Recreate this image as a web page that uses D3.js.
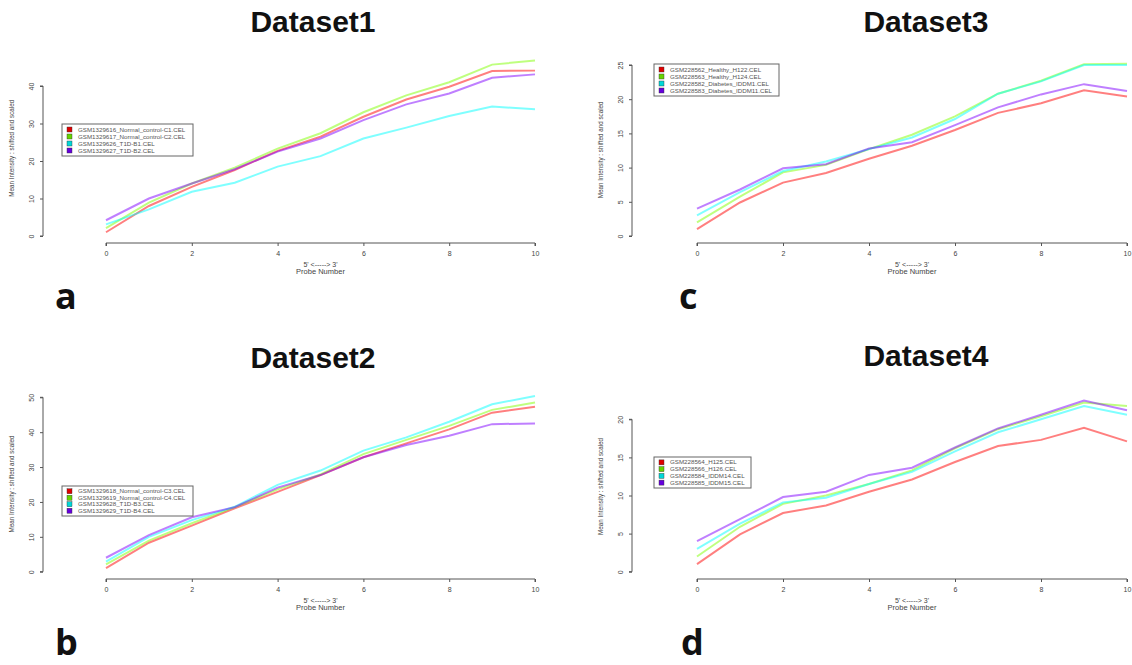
<!DOCTYPE html>
<html>
<head>
<meta charset="utf-8">
<script src="https://cdn.jsdelivr.net/npm/d3@7"></script>
<style>
  body { margin: 0; background: #fff; }
  svg { display: block; }
</style>
</head>
<body>
<script>
// probe positions along the transcript
const probes = [0, 1, 2, 3, 4, 5, 6, 7, 8, 9, 10];
const xTicks = [0, 2, 4, 6, 8, 10];

// Dataset1 series
const ds1Names = ["GSM1329616_Normal_control-C1.CEL", "GSM1329617_Normal_control-C2.CEL",
                  "GSM1329626_T1D-B1.CEL", "GSM1329627_T1D-B2.CEL"];
const ds1Values = [
  [1.0, 8.0, 13.1, 17.6, 22.7, 26.5, 31.8, 36.4, 39.8, 44.0, 44.1],
  [2.1, 8.9, 14.0, 18.2, 23.3, 27.4, 33.0, 37.5, 41.0, 45.7, 46.8],
  [3.1, 7.1, 11.8, 14.2, 18.5, 21.3, 26.0, 28.9, 32.0, 34.5, 33.8],
  [4.2, 10.0, 14.0, 17.8, 22.5, 26.0, 30.9, 35.1, 38.0, 42.2, 43.1]
];
const ds1Ticks = [0, 10, 20, 30, 40];

// Dataset2 series
const ds2Names = ["GSM1329618_Normal_control-C3.CEL", "GSM1329619_Normal_control-C4.CEL",
                  "GSM1329628_T1D-B3.CEL", "GSM1329629_T1D-B4.CEL"];
const ds2Values = [
  [1.0, 8.3, 13.2, 18.2, 22.9, 27.7, 32.8, 36.8, 40.8, 45.6, 47.3],
  [2.1, 8.9, 13.9, 18.5, 23.6, 27.9, 33.7, 37.8, 41.8, 46.4, 48.5],
  [2.9, 10.0, 14.8, 18.6, 24.9, 29.0, 34.7, 38.5, 43.0, 48.0, 50.4],
  [4.0, 10.5, 15.6, 18.5, 24.1, 27.7, 32.8, 36.3, 39.0, 42.3, 42.5]
];
const ds2Ticks = [0, 10, 20, 30, 40, 50];

// Dataset3 series
const ds3Names = ["GSM228562_Healthy_H122.CEL", "GSM228563_Healthy_H124.CEL",
                  "GSM228582_Diabetes_IDDM1.CEL", "GSM228583_Diabetes_IDDM11.CEL"];
const ds3Values = [
  [1.0, 4.9, 7.8, 9.2, 11.3, 13.2, 15.5, 18.0, 19.4, 21.3, 20.4],
  [2.0, 5.75, 9.3, 10.4, 12.7, 14.8, 17.5, 20.8, 22.7, 25.1, 25.2],
  [3.0, 6.4, 9.5, 10.9, 12.7, 14.4, 17.1, 20.8, 22.6, 25.0, 25.0],
  [4.0, 6.8, 9.9, 10.5, 12.8, 13.7, 16.2, 18.8, 20.7, 22.2, 21.2]
];
const ds3Ticks = [0, 5, 10, 15, 20, 25];

// Dataset4 series
const ds4Names = ["GSM228564_H125.CEL", "GSM228566_H126.CEL",
                  "GSM228584_IDDM14.CEL", "GSM228585_IDDM15.CEL"];
const ds4Values = [
  [1.0, 4.9, 7.7, 8.7, 10.5, 12.1, 14.4, 16.5, 17.3, 18.9, 17.1],
  [2.0, 5.9, 8.9, 10.0, 11.5, 13.3, 16.2, 18.7, 20.4, 22.2, 21.75],
  [3.0, 6.3, 9.1, 9.7, 11.5, 13.1, 15.8, 18.3, 20.0, 21.75, 20.6],
  [4.0, 6.9, 9.8, 10.5, 12.7, 13.65, 16.3, 18.8, 20.6, 22.45, 21.2]
];
const ds4Ticks = [0, 5, 10, 15, 20];

const lineColors = ["rgba(255,0,0,0.5)", "rgba(128,255,0,0.5)", "rgba(0,255,255,0.5)", "rgba(128,0,255,0.5)"];
const keyColors = ["#e00000", "#66d400", "#00d8d8", "#6600dd"];

const panels = [
  { title: "Dataset1", letter: "a", names: ds1Names, values: ds1Values, ticks: ds1Ticks,
    x0: 106, x1: 535, axX: 43, axY: 243, y0: 236, yT: 86, tx: 313, ty: 32, lx: 55, ly: 309,
    leg: [62, 124, 131, 32] },
  { title: "Dataset2", letter: "b", names: ds2Names, values: ds2Values, ticks: ds2Ticks,
    x0: 106, x1: 535, axX: 43, axY: 579, y0: 571.7, yT: 397.3, tx: 313, ty: 368, lx: 55, ly: 655,
    leg: [62, 486, 131, 30] },
  { title: "Dataset3", letter: "c", names: ds3Names, values: ds3Values, ticks: ds3Ticks,
    x0: 697, x1: 1127, axX: 632, axY: 243, y0: 236, yT: 65, tx: 926, ty: 32, lx: 679, ly: 309,
    leg: [654, 64, 125, 32] },
  { title: "Dataset4", letter: "d", names: ds4Names, values: ds4Values, ticks: ds4Ticks,
    x0: 697, x1: 1127, axX: 632, axY: 579, y0: 571.7, yT: 419.3, tx: 926, ty: 366, lx: 681, ly: 655,
    leg: [654, 457, 97, 31] }
];

const svg = d3.select("body").append("svg")
  .attr("width", 1132)
  .attr("height", 665);

const axisCol = "#555";
const txtCol = "#444";

panels.forEach(p => {
  const g = svg.append("g");
  const topTick = p.ticks[p.ticks.length - 1];
  const x = d3.scaleLinear().domain([0, 10]).range([p.x0, p.x1]);
  const y = d3.scaleLinear().domain([0, topTick]).range([p.y0, p.yT]);

  // title
  g.append("text")
    .attr("x", p.tx).attr("y", p.ty)
    .attr("text-anchor", "middle")
    .style("font", "bold 30px 'Liberation Sans', Arial, sans-serif")
    .attr("fill", "#111")
    .text(p.title);

  // panel letter
  g.append("text")
    .attr("x", p.lx).attr("y", p.ly)
    .style("font", "bold 36px 'Open Sans', 'Liberation Sans', sans-serif")
    .attr("fill", "#111")
    .text(p.letter);

  // x axis
  const xa = g.append("g")
    .attr("transform", `translate(0,${p.axY})`)
    .call(d3.axisBottom(x).tickValues(xTicks).tickSize(3).tickPadding(5).tickFormat(d3.format("d")));
  xa.select(".domain").attr("stroke", axisCol).attr("d", `M${p.x0},3V0H${p.x1}V3`);
  xa.selectAll(".tick line").attr("stroke", axisCol);
  xa.selectAll(".tick text")
    .attr("fill", txtCol)
    .style("font", "7px 'Liberation Sans', Arial, sans-serif");

  g.append("text")
    .attr("x", (p.x0 + p.x1) / 2).attr("y", p.axY + 24)
    .attr("text-anchor", "middle")
    .style("font", "7px 'Liberation Sans', Arial, sans-serif")
    .attr("fill", txtCol)
    .text("5' <-----> 3'");
  g.append("text")
    .attr("x", (p.x0 + p.x1) / 2).attr("y", p.axY + 31)
    .attr("text-anchor", "middle")
    .style("font", "7.5px 'Liberation Sans', Arial, sans-serif")
    .attr("fill", txtCol)
    .text("Probe Number");

  // y axis
  const ya = g.append("g")
    .attr("transform", `translate(${p.axX},0)`)
    .call(d3.axisLeft(y).tickValues(p.ticks).tickSize(3).tickFormat(d3.format("d")));
  ya.select(".domain").attr("stroke", axisCol).attr("d", `M-3,${p.y0}H0V${p.yT}H-3`);
  ya.selectAll(".tick line").attr("stroke", axisCol);
  ya.selectAll(".tick text")
    .attr("fill", txtCol)
    .attr("x", null).attr("dy", null)
    .attr("text-anchor", "middle")
    .attr("transform", "translate(-9,0) rotate(-90)")
    .style("font", "7px 'Liberation Sans', Arial, sans-serif");

  // y label centred on the plot region
  const plotTop = y(d3.max(p.values.flat()) * 1.04);
  const plotBot = p.axY;
  g.append("text")
    .attr("transform", `translate(${p.axX - 29},${(plotTop + plotBot) / 2}) rotate(-90)`)
    .attr("text-anchor", "middle")
    .style("font", "6.3px 'Liberation Sans', Arial, sans-serif")
    .attr("fill", txtCol)
    .text("Mean Intensity : shifted and scaled");

  // lines
  const line = d3.line().x((d, i) => x(probes[i])).y(d => y(d));
  p.values.forEach((s, k) => {
    g.append("path")
      .attr("d", line(s))
      .attr("fill", "none")
      .attr("stroke", lineColors[k])
      .attr("stroke-width", 2);
  });

  // legend
  const [lx, ly, lw, lh] = p.leg;
  const lg = g.append("g");
  lg.append("rect")
    .attr("x", lx).attr("y", ly).attr("width", lw).attr("height", lh)
    .attr("fill", "#fff").attr("stroke", "#666").attr("stroke-width", 1);
  const rowH = (lh - 4) / 4;
  p.names.forEach((n, k) => {
    const cy = ly + 2 + rowH * (k + 0.5);
    lg.append("rect")
      .attr("x", lx + 5).attr("y", cy - 2.5).attr("width", 5).attr("height", 5)
      .attr("fill", keyColors[k]).attr("stroke", "#333").attr("stroke-width", 0.4);
    lg.append("text")
      .attr("x", lx + 16).attr("y", cy + 2)
      .style("font", "6.2px 'Liberation Sans', Arial, sans-serif")
      .attr("fill", "#555")
      .text(n);
  });
});
</script>
</body>
</html>
